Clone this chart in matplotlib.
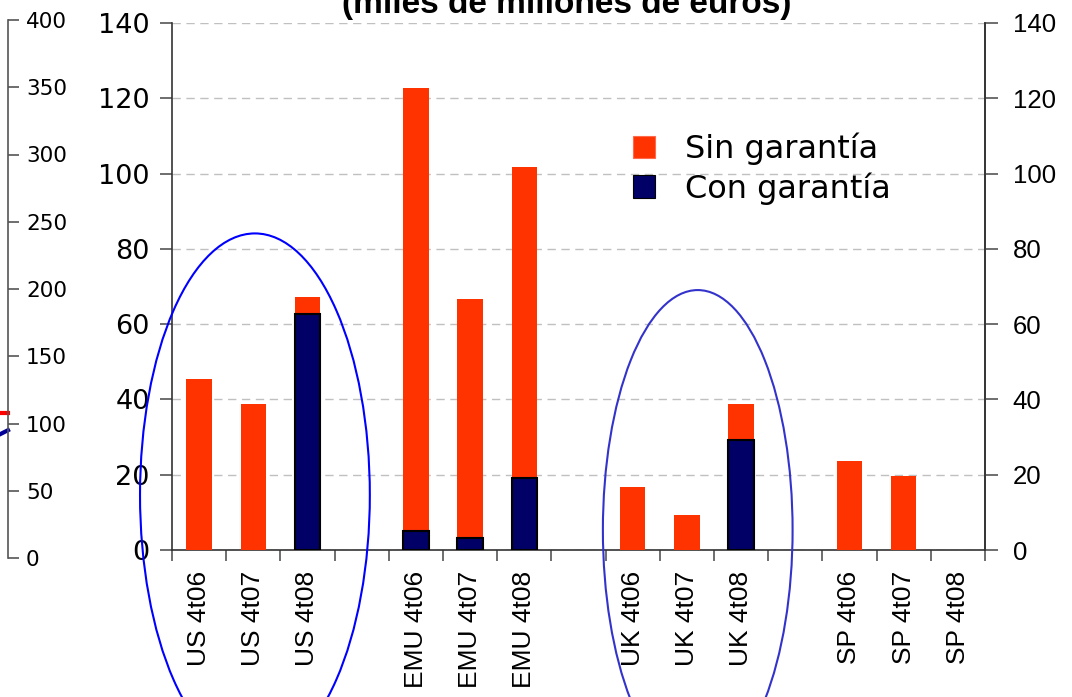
import numpy as np
import matplotlib
matplotlib.use('Agg')
import matplotlib.pyplot as plt
from matplotlib.patches import Ellipse

# Datos (miles de millones de euros)
grupos = ['US', 'EMU', 'UK', 'SP']
periodos = ['4t06', '4t07', '4t08']
con_garantia = [0, 0, 62.7, 5.0, 3.2, 19.1, 0, 0, 29.2, 0, 0, 0]
sin_garantia = [45.4, 38.8, 4.5, 117.7, 63.5, 82.7, 16.7, 9.3, 9.6, 23.6, 19.7, 0]
etiquetas = [g + ' ' + p for g in grupos for p in periodos]

# eje de la izquierda (resto de otro grafico)
eje_izq_ticks = [0, 50, 100, 150, 200, 250, 300, 350, 400]
linea_roja = [108, 108]
linea_azul = [92, 95]

W, H = 1072, 697
fig = plt.figure(figsize=(W / 100, H / 100), dpi=100)

def px_axes(x0, x1, ytop, ybot):
    return [x0 / W, 1 - ybot / H, (x1 - x0) / W, (ybot - ytop) / H]

# posiciones con huecos entre grupos
pos = np.array([g * 4 + i for g in range(len(grupos)) for i in range(len(periodos))])

ax = fig.add_axes(px_axes(172, 985, 23, 550))
rojo = '#FF3300'
azul = '#000066'

lw_con = [1.5 if v > 0 else 0 for v in con_garantia]
ax.bar(pos, sin_garantia, 0.47, bottom=con_garantia, color=rojo, linewidth=0,
       label='Sin garantía', zorder=3)
ax.bar(pos, con_garantia, 0.47, color=azul, edgecolor='black', linewidth=lw_con,
       label='Con garantía', zorder=3)

ax.set_xlim(-0.5, 14.5)
ax.set_ylim(0, 140)
ax.set_yticks(np.arange(0, 141, 20))
ax.yaxis.grid(True, color='#c0c0c0', linestyle=(0, (6, 4)), linewidth=1)
ax.set_axisbelow(True)

ax.set_xticks(pos)
ax.set_xticklabels(etiquetas, rotation=90, family='Liberation Sans', fontsize=19)
ax.set_xticks(np.arange(-0.5, 15, 1), minor=True)
ax.tick_params(axis='x', which='major', length=0, pad=15)
ax.tick_params(axis='x', which='minor', length=8, color='#555555', width=1.2)
ax.tick_params(axis='y', length=9, color='#555555', width=1.2, pad=7, labelsize=19.5)

for s in ['top']:
    ax.spines[s].set_visible(False)
for s in ['left', 'right', 'bottom']:
    ax.spines[s].set_color('#333333')
    ax.spines[s].set_linewidth(1.2)

# eje derecho
ax2 = ax.twinx()
ax2.set_ylim(0, 140)
ax2.set_yticks(np.arange(0, 141, 20))
ax2.tick_params(axis='y', length=9, color='#555555', width=1.2, pad=11, labelsize=18.5)
for t in ax2.get_yticklabels():
    t.set_family('Liberation Sans')
for s in ['top', 'left', 'bottom']:
    ax2.spines[s].set_visible(False)
ax2.spines['right'].set_color('#333333')
ax2.spines['right'].set_linewidth(1.2)

# elipses
ax.add_patch(Ellipse((1.03, 14.6), 4.24, 139, fill=False, edgecolor='#0000FF',
                     linewidth=1.5, clip_on=False, zorder=5))
ax.add_patch(Ellipse((9.2, 5.3), 3.5, 127.5, fill=False, edgecolor='#3333CC',
                     linewidth=1.5, clip_on=False, zorder=5))

# leyenda
leg = ax.legend(loc='upper left', bbox_to_anchor=(604 / W, 1 - 104 / H),
                bbox_transform=fig.transFigure, frameon=False, fontsize=23,
                handlelength=0.7, handleheight=0.7, handletextpad=0.95,
                labelspacing=0.22)
for h in leg.legend_handles:
    h.set_edgecolor('black')
    h.set_linewidth(0.8)
leg.legend_handles[0].set_edgecolor('#ff6a4d')

# eje de la izquierda, parcialmente visible
ax0 = fig.add_axes(px_axes(0, 8, 20, 558))
ax0.set_xlim(0, 1)
ax0.set_ylim(0, 400)
ax0.plot([0, 1], linea_roja, color='#FF0000', linewidth=3, clip_on=False)
ax0.plot([0, 1], linea_azul, color='#000099', linewidth=3, clip_on=False)
ax0.set_yticks(eje_izq_ticks)
ax0.yaxis.tick_right()
ax0.set_xticks([])
ax0.tick_params(axis='y', length=8, color='#555555', width=1.2, pad=5, labelsize=15.5)
for s in ['top', 'left', 'bottom']:
    ax0.spines[s].set_visible(False)
ax0.spines['right'].set_color('#555555')
ax0.spines['right'].set_linewidth(1.2)
ax0.patch.set_alpha(0)

# titulo cortado, como en el original
fig.text(567 / W, 1 - 13 / H, '(miles de millones de euros)', ha='center',
         va='baseline', fontsize=24, fontweight='bold', family='Liberation Sans')

fig.savefig('out.png', dpi=100)
